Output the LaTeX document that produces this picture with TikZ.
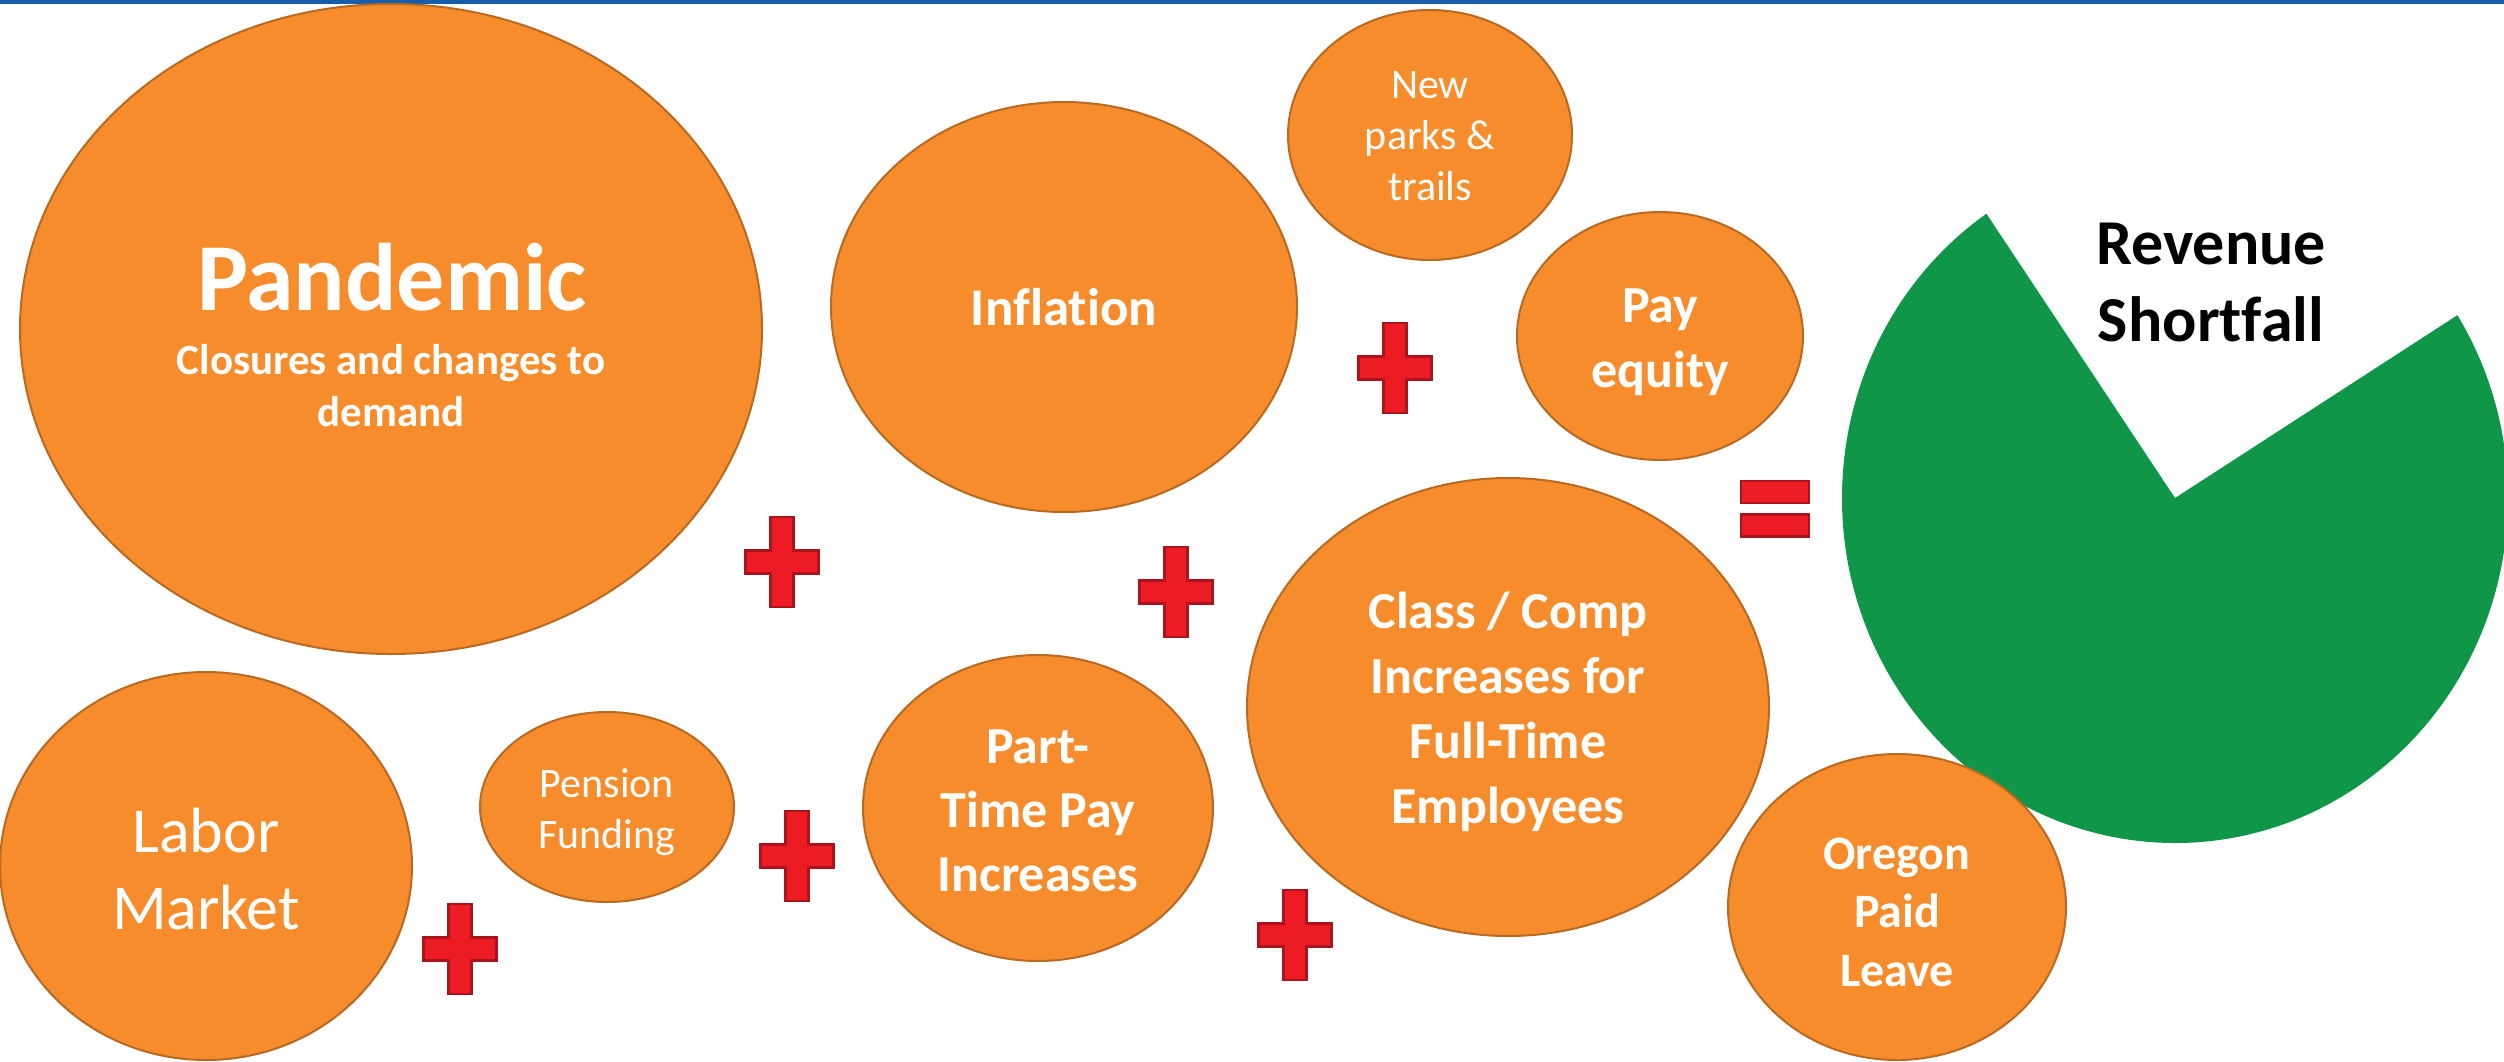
\documentclass[tikz,border=0pt]{standalone}
\usepackage{fontspec}
\setmainfont{Carlito}[Ligatures=NoCommon]
\usetikzlibrary{shapes.geometric}
\definecolor{bubblefill}{RGB}{246,140,43}
\definecolor{bubbleline}{RGB}{184,106,34}
\definecolor{piegreen}{RGB}{16,150,72}
\definecolor{signred}{RGB}{237,28,36}
\definecolor{signline}{RGB}{170,20,28}
\definecolor{topblue}{RGB}{23,94,170}
\newcommand\fsz[2]{\fontsize{#1}{#2}\selectfont}
\tikzset{
  bubble/.style={ellipse, draw=bubbleline, fill=bubblefill, line width=2pt, inner sep=0pt},
  bubbletext/.style={text=white, align=center, inner sep=0pt},
  signshape/.style={fill=signred, draw=signline, line width=2.5pt},
  eqbar/.style={rectangle, signshape, minimum width=68pt, minimum height=22pt, inner sep=0pt},
  plussign/.pic={\path[signshape] (-36.5,-11.5) -- (-11.5,-11.5) -- (-11.5,-45) -- (11.5,-45) -- (11.5,-11.5) -- (36.5,-11.5) -- (36.5,11.5) -- (11.5,11.5) -- (11.5,45) -- (-11.5,45) -- (-11.5,11.5) -- (-36.5,11.5) -- cycle;}
}
\begin{document}
\begin{tikzpicture}[x=1pt,y=-1pt]
\useasboundingbox (0,0) rectangle (2504,1061);
\clip (0,0) rectangle (2504,1061);
\fill[topblue] (0,0) rectangle (2504,3.5);

% pie
\coordinate (pv) at (2175,498);
\fill[piegreen] (pv) -- ++(-124.5:333 and 345) arc[start angle=-124.5, end angle=-392, x radius=333, y radius=345] -- cycle;
\node[font=\bfseries\fsz{64}{77}, align=center, text=black] (revenue) at (2211,282) {Revenue\\Shortfall};

% bubbles
\node[bubble, minimum width=742pt, minimum height=650pt] (pandemic) at (391,329) {};
\node[font=\bfseries\fsz{96}{115}, text=white, anchor=base] (pantitle) at (392,310) {Pandemic};
\node[font=\bfseries\fsz{43}{52}, text=white, anchor=base] (pansubA) at (391,374) {Closures and changes to};
\node[font=\bfseries\fsz{43}{52}, text=white, anchor=base] (pansubB) at (391,426) {demand};

\node[bubble, minimum width=466pt, minimum height=410pt] (inflation) at (1064,307) {};
\node[bubbletext, font=\bfseries\fsz{53}{64}] (inflationtext) at (inflation.center) {Inflation};

\node[bubble, minimum width=284pt, minimum height=250pt] (parks) at (1430,135) {};
\node[bubbletext, font=\fsz{42}{51}] (parkstext) at ([yshift=-1pt]parks.center) {New\\parks \&\\trails};

\node[bubble, minimum width=286pt, minimum height=248pt] (payeq) at (1660,336) {};
\node[bubbletext, font=\bfseries\fsz{52}{65}] (payeqtext) at ([yshift=-6pt]payeq.center) {Pay\\equity};

\node[bubble, minimum width=522pt, minimum height=458pt] (classcomp) at (1508,707) {};
\node[bubbletext, font=\bfseries\fsz{52}{65}] (classcomptext) at ([yshift=-5pt]classcomp.center) {Class / Comp\\Increases for\\Full-Time\\Employees};

\node[bubble, minimum width=412pt, minimum height=388pt] (labor) at (206,866) {};
\node[bubbletext, font=\fsz{64}{77}] (labortext) at ([yshift=-3pt]labor.center) {Labor\\Market};

\node[bubble, minimum width=254pt, minimum height=190pt] (pension) at (607,807) {};
\node[bubbletext, font=\fsz{42}{51}] (pensiontext) at ([yshift=-5pt]pension.center) {Pension\\Funding};

\node[bubble, minimum width=350pt, minimum height=306pt] (parttime) at (1038,808) {};
\node[bubbletext, font=\bfseries\fsz{52}{64}] (parttimetext) at ([yshift=-3pt]parttime.center) {Part-\\Time Pay\\Increases};

\node[bubble, minimum width=338pt, minimum height=306pt] (oregon) at (1897,907) {};
\node[bubbletext, font=\bfseries\fsz{48}{58.5}] (oregontext) at ([yshift=-5pt]oregon.center) {Oregon\\Paid\\Leave};

% plus signs
\pic at (782,562) {plussign};
\pic at (1395,368) {plussign};
\pic at (1176,592) {plussign};
\pic at (797,856) {plussign};
\pic at (460,949) {plussign};
\pic at (1295,935) {plussign};

% equals sign
\node[eqbar] (eqtop) at (1775,492) {};
\node[eqbar] (eqbottom) at (1775,525.5) {};
\end{tikzpicture}
\end{document}
